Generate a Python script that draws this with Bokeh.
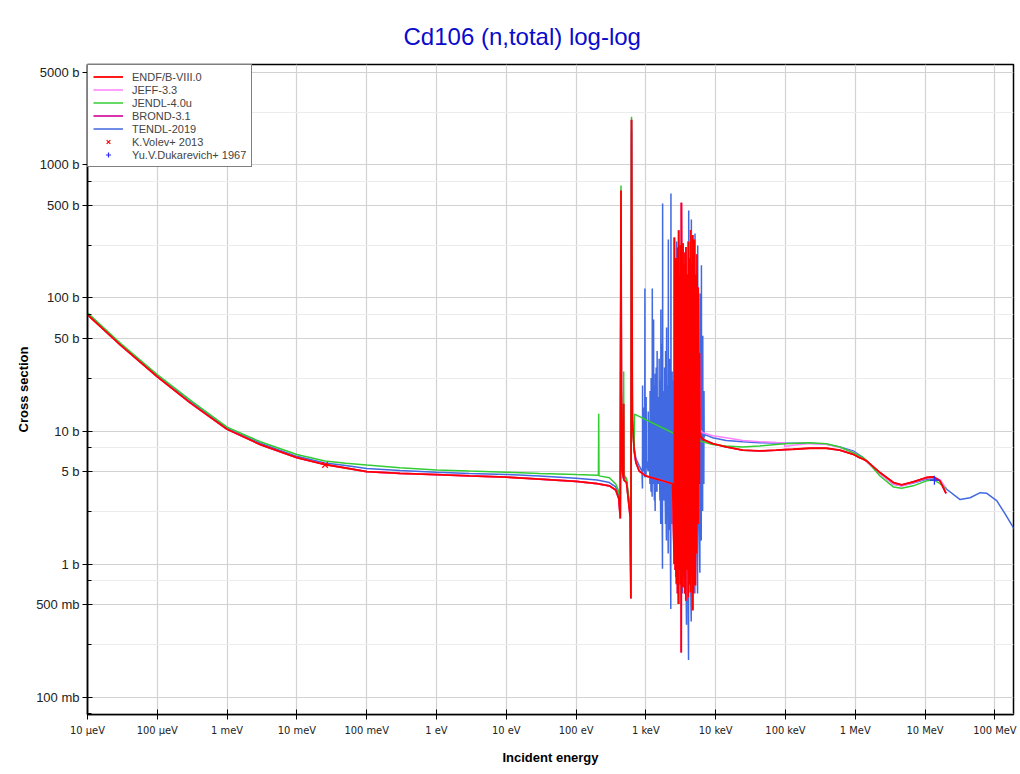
from bokeh.plotting import figure
from bokeh.models import (Range1d, FixedTicker, CustomJSTickFormatter,
                          Legend, LegendItem)
from bokeh.embed import file_html
from bokeh.resources import INLINE

# ---------------- data (energies in eV, cross sections in barns) ----------------
x_ticks = [1e-5, 1e-4, 1e-3, 1e-2, 1e-1, 1, 10, 100, 1e3, 1e4, 1e5, 1e6, 1e7, 1e8]
x_tick_labels = ["10 µeV", "100 µeV", "1 meV", "10 meV", "100 meV", "1 eV", "10 eV",
                 "100 eV", "1 keV", "10 keV", "100 keV", "1 MeV", "10 MeV", "100 MeV"]
y_ticks = [0.1, 0.5, 1, 5, 10, 50, 100, 500, 1000, 5000]
y_tick_labels = ["100 mb", "500 mb", "1 b", "5 b", "10 b", "50 b", "100 b", "500 b",
                 "1000 b", "5000 b"]
y_minor = [0.075, 0.25, 0.75, 2.5, 7.5, 25, 75, 250, 750, 2500]

low_e = [1e-5, 3e-5, 1e-4, 3e-4, 1e-3, 3e-3, 1e-2, 2.53e-2, 5e-2, 1e-1, 3e-1, 1, 3,
         10, 30, 100, 200, 300, 370, 410, 430]

# ENDF/B-VIII.0
endf_low_xs = [75.0, 44.0, 25.6, 16.2, 10.3, 7.9, 6.3, 5.6, 5.27, 4.95, 4.8, 4.7, 4.6,
               4.5, 4.35, 4.18, 4.02, 3.87, 3.6, 3.1, 2.2]
endf_rrr_e = [440, 446, 460, 478, 480, 483, 528, 597, 610, 623, 640, 681, 720, 803,
              990, 1560, 2420]
endf_rrr_xs = [643, 20, 5.0, 4.4, 16, 4.3, 4.1, 2.25, 0.55, 2190, 12, 7.1, 5.8, 5.0,
               4.6, 4.3, 4.0]
endf_dense_e = [2545, 2559, 2632, 2645, 2702, 2716, 2750, 2762, 2840, 2853, 2938, 2951,
                3034, 3048, 3138, 3152, 3212, 3228, 3388, 3404, 3500, 3516, 3617, 3633,
                3738, 3755, 3890, 3908, 4045, 4064, 4198, 4217, 4369, 4389, 4515, 4536,
                4666, 4688, 4793, 4815, 4934, 4956, 5116, 5140, 5378, 5403, 5597, 5623,
                5824, 5851]
endf_dense_xs = [1.0, 285, 0.9, 129, 0.8, 200, 0.71, 180, 0.6, 240, 0.5, 323, 0.9, 150,
                 0.7, 250, 0.216, 520, 0.67, 258, 0.8, 180, 0.6, 220, 0.53, 242, 0.9,
                 150, 0.56, 266, 0.7, 200, 0.61, 325, 0.8, 180, 0.45, 298, 0.6, 200,
                 0.7, 275, 0.69, 150, 1.2, 213, 2.0, 120, 4.0, 38.6]
endf_high_e = [5950, 6531, 9083, 14100, 24500, 42600, 73800, 97500, 128000, 223000,
               386000, 601000, 933000, 1.16e6, 1.30e6, 1.45e6, 2.26e6, 3.51e6, 4.62e6,
               6.79e6, 1.05e7, 1.32e7, 1.64e7, 1.94e7, 2.0e7]
endf_high_xs = [9.3, 8.66, 8.03, 7.6, 7.17, 7.08, 7.17, 7.25, 7.29, 7.42, 7.42, 7.17,
                6.68, 6.3, 6.15, 5.96, 4.87, 4.10, 3.93, 4.15, 4.47, 4.52, 4.22, 3.51, 3.4]

# JEFF-3.3 (same resolved region as ENDF)
jeff_high_e = [5950, 6531, 9083, 14100, 24500, 42600, 73800, 97000, 97600, 128000,
               223000, 386000, 601000, 933000, 1.30e6, 2.26e6, 3.51e6, 4.62e6, 6.79e6,
               1.05e7, 1.32e7, 1.64e7, 2.0e7]
jeff_high_xs = [10.2, 9.7, 9.2, 8.9, 8.5, 8.3, 8.2, 8.17, 7.65, 7.8, 8.05, 7.95, 7.5,
                6.95, 6.2, 4.75, 4.0, 3.85, 4.1, 4.42, 4.47, 4.3, 3.7]

# JENDL-4.0u
jendl_low_e = [1e-5, 3e-5, 1e-4, 3e-4, 1e-3, 3e-3, 1e-2, 2.53e-2, 5e-2, 1e-1, 3e-1, 1,
               3, 10, 30, 100, 200, 209, 211, 213, 300, 370, 410, 430]
jendl_low_xs = [77.5, 45.5, 26.6, 17.0, 10.7, 8.3, 6.65, 5.95, 5.72, 5.55, 5.3, 5.1,
                5.0, 4.9, 4.8, 4.7, 4.65, 4.65, 13.5, 4.6, 4.45, 4.0, 3.5, 2.8]
jendl_rrr_e = [440, 446, 460, 478, 481, 484, 528, 597, 610, 623, 640, 680, 686, 2420,
               6500]
jendl_rrr_xs = [700, 22, 5.3, 4.8, 28, 4.7, 4.4, 2.5, 0.6, 2300, 12, 7.1, 13.4, 9.7, 8.3]
jendl_high_e = [9083, 14100, 24500, 42600, 97500, 223000, 386000, 601000, 933000,
                1.30e6, 1.45e6, 2.26e6, 3.51e6, 4.62e6, 6.79e6, 1.05e7, 1.32e7, 1.64e7,
                1.88e7, 2.0e7]
jendl_high_xs = [7.9, 7.72, 7.58, 7.72, 8.03, 8.17, 8.03, 7.58, 6.87, 6.3, 6.0, 4.59,
                 3.80, 3.71, 3.87, 4.22, 4.29, 4.02, 3.76, 3.7]

# TENDL-2019
tendl_low_xs = [76.3, 44.8, 26.1, 16.6, 10.5, 8.1, 6.45, 5.75, 5.5, 5.22, 5.05, 4.9,
                4.8, 4.72, 4.58, 4.42, 4.28, 4.1, 3.8, 3.3, 2.4]
tendl_rrr_e = [440, 446, 460, 478, 528, 597, 610, 623, 640, 681, 720, 800, 880]
tendl_rrr_xs = [600, 18, 5.2, 4.6, 4.3, 2.4, 0.7, 1800, 13, 7.5, 6.2, 5.5, 5.0]
tendl_spk_e = [893, 897, 902, 921, 925, 929, 963, 968, 973, 1005, 1010, 1015,
               1077, 1082, 1088, 1111, 1115, 1120, 1145, 1150, 1156, 1186, 1190, 1195,
               1230, 1236, 1243, 1258, 1262, 1267, 1284, 1290, 1297, 1325, 1330, 1335,
               1358, 1364, 1371, 1400, 1405, 1410, 1443, 1450, 1458, 1495, 1500, 1506,
               1543, 1550, 1558, 1591, 1597, 1603, 1633, 1641, 1650, 1684, 1690, 1696,
               1730, 1738, 1747, 1790, 1797, 1804, 1848, 1857, 1866, 1910, 1917, 1924,
               1970, 1980, 1990, 2033, 2040, 2047, 2089, 2099, 2110, 2182, 2190, 2198,
               2276, 2287, 2298, 2372, 2380, 2388, 2464, 2476, 2488,
               2617, 2630, 2643, 2748, 2762, 2776, 2935, 2950, 2965, 3134, 3150, 3166,
               3350, 3367, 3384, 3572, 3590, 3608, 3821, 3840, 3859, 4088, 4109, 4130,
               4465, 4487, 4509, 4773, 4797, 4821, 5034, 5059, 5084, 5505, 5533, 5561,
               5940, 5970, 6000, 6221, 6252, 6283, 6502, 6535, 6568, 6766, 6800, 6834]
tendl_spk_xs = [3.7, 22, 6.5, 5.0, 15, 6.0, 4.5, 118, 7.0, 4.5, 18, 6.0,
                5.0, 14, 6.0, 5.0, 12, 6.0, 4.0, 20, 6.0, 3.5, 25, 6.0,
                3.2, 118, 6.5, 4.0, 16, 6.0, 4.5, 69, 6.0, 3.0, 22, 6.0,
                2.5, 27, 5.5, 3.5, 30, 6.0, 3.5, 40, 6.0, 4.0, 18, 6.0,
                4.0, 35, 6.0, 3.0, 24, 6.0, 2.0, 82, 6.5, 2.5, 45, 6.0,
                0.92, 514, 7.0, 3.0, 20, 6.0, 3.0, 30, 6.0, 2.0, 40, 6.0,
                1.5, 60, 6.0, 2.5, 22, 6.0, 1.2, 275, 6.5, 1.8, 35, 6.0,
                0.46, 610, 7.0, 2.0, 28, 6.0, 2.0, 24, 6.0,
                1.0, 150, 6.0, 0.7, 266, 6.0, 0.5, 100, 6.0, 1.0, 200, 6.0,
                0.6, 120, 6.0, 0.8, 180, 6.0, 0.35, 90, 6.0, 0.19, 455, 6.5,
                0.37, 390, 6.5, 0.45, 150, 6.0, 0.6, 306, 6.5, 0.6, 248, 6.5,
                0.86, 108, 7.0, 1.5, 176, 7.0, 2.5, 52, 8.0, 4.0, 20, 9.0]
tendl_high_e = [7000, 9083, 14100, 24500, 42600, 97500, 223000, 386000, 601000, 933000,
                1.30e6, 1.45e6, 2.26e6, 3.51e6, 4.62e6, 6.79e6, 1.05e7, 1.32e7, 1.64e7,
                2.04e7, 3.18e7, 4.43e7, 6.17e7, 7.68e7, 1.07e8, 1.41e8, 1.86e8, 2.0e8]
tendl_high_xs = [9.4, 8.9, 8.5, 8.3, 8.17, 8.08, 8.08, 7.95, 7.6, 7.08, 6.3, 5.96,
                 4.79, 3.98, 3.87, 4.06, 4.34, 4.38, 4.22, 3.65, 3.05, 3.15, 3.44, 3.4,
                 2.98, 2.37, 1.86, 1.75]

# experimental points
volev_e = [0.0253]
volev_xs = [5.56]
duk_e = [1.36e7]
duk_xs = [4.27]

# assembled library curves
endf_e = low_e + endf_rrr_e + endf_dense_e + endf_high_e
endf_xs = endf_low_xs + endf_rrr_xs + endf_dense_xs + endf_high_xs
jeff_e = low_e + endf_rrr_e + endf_dense_e + jeff_high_e
jeff_xs = endf_low_xs + endf_rrr_xs + endf_dense_xs + jeff_high_xs
brond_e = endf_e
brond_xs = endf_xs
jendl_e = jendl_low_e + jendl_rrr_e + jendl_high_e
jendl_xs = jendl_low_xs + jendl_rrr_xs + jendl_high_xs
tendl_e = low_e + tendl_rrr_e + tendl_spk_e + tendl_high_e
tendl_xs = tendl_low_xs + tendl_rrr_xs + tendl_spk_xs + tendl_high_xs

C_ENDF, C_JEFF, C_JENDL, C_BROND, C_TENDL = "#ff0000", "#ff80ff", "#33cc33", "#cc0099", "#4169e1"

# ---------------- figure ----------------
p = figure(x_axis_type="log", y_axis_type="log",
           frame_width=926, frame_height=650,
           x_range=Range1d(1e-5, 1.85e8), y_range=Range1d(0.0739, 5695),
           output_backend="svg", toolbar_location=None,
           min_border_left=87, min_border_right=7, min_border_top=64,
           min_border_bottom=50, background_fill_color="white")

p.title.text = "Cd106 (n,total) log-log"
p.title.align = "left"
p.title.offset = 316
p.title.text_font = "Liberation Sans"
p.title.text_font_size = "24px"
p.title.text_font_style = "normal"
p.title.text_color = "#0a0acc"
p.title.standoff = 30

xticker = FixedTicker(ticks=x_ticks, minor_ticks=[])
yticker = FixedTicker(ticks=y_ticks, minor_ticks=y_minor)

fmt_code = """
let best = 0, bd = 1e9;
for (let i = 0; i < vals.length; i++) {
  const d = Math.abs(Math.log10(vals[i]) - Math.log10(tick));
  if (d < bd) { bd = d; best = i; }
}
return bd < 1e-6 ? labs[best] : "";
"""
xfmt = CustomJSTickFormatter(args=dict(vals=x_ticks, labs=x_tick_labels), code=fmt_code)
yfmt = CustomJSTickFormatter(args=dict(vals=y_ticks, labs=y_tick_labels), code=fmt_code)

xa = p.xaxis[0]
xa.ticker = xticker
xa.formatter = xfmt
xa.axis_label = "Incident energy"
xa.major_label_text_font = "DejaVu Sans Condensed, Liberation Sans"
xa.major_label_text_font_size = "11px"
xa.major_label_standoff = 4
xa.axis_label_standoff = 10

ya = p.yaxis[0]
ya.ticker = yticker
ya.formatter = yfmt
ya.axis_label = "Cross section"
ya.major_label_text_font = "Liberation Sans"
ya.major_label_text_font_size = "13px"
ya.major_label_standoff = 3
ya.axis_label_standoff = 2

for ax in (xa, ya):
    ax.axis_line_color = "black"
    ax.axis_line_width = 1.5
    ax.major_tick_line_color = "black"
    ax.major_tick_in = 5
    ax.major_tick_out = 5
    ax.minor_tick_in = 4
    ax.minor_tick_out = 0
    ax.minor_tick_line_color = "black"
    ax.major_label_text_color = "#222222"
    ax.axis_label_text_font = "Liberation Sans"
    ax.axis_label_text_font_style = "bold"
    ax.axis_label_text_font_size = "13px"
    ax.axis_label_text_color = "black"

p.xgrid.ticker = xticker
p.ygrid.ticker = yticker
p.xgrid.grid_line_color = "#d2d2d2"
p.ygrid.grid_line_color = "#d2d2d2"
p.xgrid.grid_line_width = 1.2
p.ygrid.grid_line_width = 1.2
p.ygrid.minor_grid_line_color = "#ececec"
p.outline_line_color = "black"
p.outline_line_width = 1.5

# curves (drawn bottom to top)
r_tendl = p.line(tendl_e, tendl_xs, line_color=C_TENDL, line_width=1.5)
r_brond = p.line(brond_e, brond_xs, line_color=C_BROND, line_width=1.6)
r_jeff = p.line(jeff_e, jeff_xs, line_color=C_JEFF, line_width=1.5)
r_jendl = p.line(jendl_e, jendl_xs, line_color=C_JENDL, line_width=1.5)
r_endf = p.line(endf_e, endf_xs, line_color=C_ENDF, line_width=1.8)
r_volev = p.scatter(volev_e, volev_xs, marker="x", size=8, line_color="#ff0000",
                    line_width=1.2)
r_duk = p.scatter(duk_e, duk_xs, marker="cross", size=9, line_color="#2a2aff",
                  line_width=1.2)

legend = Legend(items=[
    LegendItem(label="ENDF/B-VIII.0", renderers=[r_endf]),
    LegendItem(label="JEFF-3.3", renderers=[r_jeff]),
    LegendItem(label="JENDL-4.0u", renderers=[r_jendl]),
    LegendItem(label="BROND-3.1", renderers=[r_brond]),
    LegendItem(label="TENDL-2019", renderers=[r_tendl]),
    LegendItem(label="K.Volev+ 2013", renderers=[r_volev]),
    LegendItem(label="Yu.V.Dukarevich+ 1967", renderers=[r_duk]),
], location="top_left")
legend.margin = 0
legend.padding = 5
legend.spacing = 0
legend.glyph_width = 30
legend.glyph_height = 13
legend.label_height = 13
legend.label_standoff = 9
legend.label_text_font = "Liberation Sans"
legend.label_text_font_size = "11px"
legend.border_line_color = "black"
legend.border_line_width = 1
legend.background_fill_alpha = 1
p.add_layout(legend)

open("out.html", "w").write(file_html(p, INLINE))
